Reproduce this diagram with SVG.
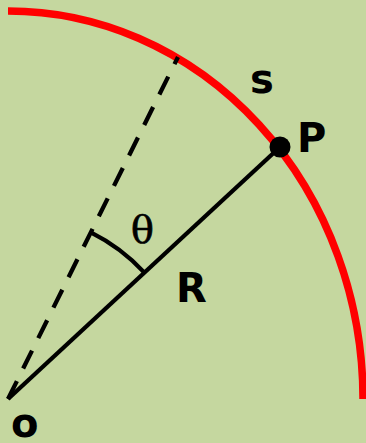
<svg xmlns="http://www.w3.org/2000/svg" width="366" height="443" viewBox="0 0 366 443">
<style>
.lbl{font-family:"DejaVu Sans",sans-serif;font-weight:bold;font-size:40px;fill:#000}
.ln{stroke:#000;fill:none;stroke-width:4.3}
</style>
<rect width="366" height="443" fill="#c5d79f"/>
<g id="arc-s">
<path d="M8,11 A355,388 0 0 1 363,399" fill="none" stroke="#ff0000" stroke-width="7.5"/>
</g>
<g id="connectors">
<line class="ln" x1="8" y1="399" x2="178" y2="57" stroke-dasharray="20,14"/>
<line class="ln" x1="8" y1="399" x2="280" y2="147"/>
<path class="ln" d="M90.8,232.4 A186,186 0 0 1 144.4,272.6" stroke-width="3.8"/>
</g>
<g id="P">
<circle cx="280" cy="147" r="10.5" fill="#000"/>
<text class="lbl" x="297" y="152">P</text>
</g>
<g id="O"><text class="lbl" x="11" y="437">o</text></g>
<g id="s"><text class="lbl" x="250" y="93">s</text></g>
<g id="R"><text class="lbl" x="176" y="302">R</text></g>
<g id="theta"><text x="131" y="243" font-family="DejaVu Serif,serif" font-size="38" fill="#000" stroke="#000" stroke-width="0.7">θ</text></g>
</svg>
